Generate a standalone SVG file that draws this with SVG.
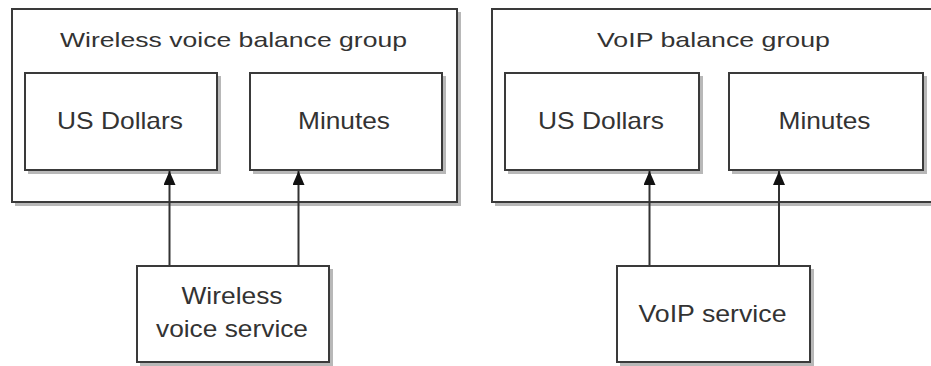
<svg xmlns="http://www.w3.org/2000/svg" width="931" height="366" viewBox="0 0 931 366">
<style>
.shadow{fill:#b8b8b8;stroke:none}
.box{fill:#fff;stroke:#3a3a3a;stroke-width:2}
.t{font-family:"Liberation Sans",Arial,sans-serif;fill:#333;text-anchor:middle}
.ttl{font-size:21px}
.lbl{font-size:24px}
.conn{stroke:#333;stroke-width:2;fill:none}
</style>
<defs>
<marker id="arr" viewBox="0 0 14 12" refX="14" refY="6" markerWidth="14" markerHeight="12" markerUnits="userSpaceOnUse" orient="auto">
<path d="M0,0 L14,6 L0,12 Z" fill="#111"/>
</marker>
</defs>
<rect width="931" height="366" fill="#fff"/>
<g id="group-wireless">
<rect class="shadow" x="15" y="12" width="446" height="194"/>
<rect class="box" x="12" y="9" width="445" height="193"/>
<text class="t ttl" x="233.5" y="47" textLength="347" lengthAdjust="spacingAndGlyphs">Wireless voice balance group</text>
</g>
<g id="wireless-usd">
<rect class="shadow" x="28" y="76" width="193" height="98"/>
<rect class="box" x="25" y="73" width="192" height="97"/>
<text class="t lbl" x="120" y="129" textLength="126" lengthAdjust="spacingAndGlyphs">US Dollars</text>
</g>
<g id="wireless-minutes">
<rect class="shadow" x="253" y="76" width="193" height="98"/>
<rect class="box" x="250" y="73" width="192" height="97"/>
<text class="t lbl" x="344" y="129" textLength="92" lengthAdjust="spacingAndGlyphs">Minutes</text>
</g>
<g id="group-voip">
<rect class="shadow" x="495" y="12" width="446" height="194"/>
<rect class="box" x="492" y="9" width="445" height="193"/>
<text class="t ttl" x="713.5" y="47" textLength="233" lengthAdjust="spacingAndGlyphs">VoIP balance group</text>
</g>
<g id="voip-usd">
<rect class="shadow" x="508" y="76" width="195" height="98"/>
<rect class="box" x="505" y="73" width="194" height="97"/>
<text class="t lbl" x="601" y="129" textLength="126" lengthAdjust="spacingAndGlyphs">US Dollars</text>
</g>
<g id="voip-minutes">
<rect class="shadow" x="732" y="76" width="195" height="98"/>
<rect class="box" x="729" y="73" width="194" height="97"/>
<text class="t lbl" x="824.5" y="129" textLength="92" lengthAdjust="spacingAndGlyphs">Minutes</text>
</g>
<g id="connectors">
<line class="conn" x1="169.5" y1="266" x2="169.5" y2="171" marker-end="url(#arr)"/>
<line class="conn" x1="298.5" y1="266" x2="298.5" y2="171" marker-end="url(#arr)"/>
<line class="conn" x1="649.5" y1="266" x2="649.5" y2="171" marker-end="url(#arr)"/>
<line class="conn" x1="779" y1="266" x2="779" y2="171" marker-end="url(#arr)"/>
</g>
<g id="wireless-service">
<rect class="shadow" x="140" y="269" width="193" height="97"/>
<rect class="box" x="137" y="266" width="192" height="96"/>
<text class="t lbl" x="232" y="304" textLength="101" lengthAdjust="spacingAndGlyphs">Wireless</text>
<text class="t lbl" x="232" y="336.5" textLength="152" lengthAdjust="spacingAndGlyphs">voice service</text>
</g>
<g id="voip-service">
<rect class="shadow" x="620" y="269" width="194" height="97"/>
<rect class="box" x="617" y="266" width="193" height="96"/>
<text class="t lbl" x="712.5" y="321.5" textLength="148" lengthAdjust="spacingAndGlyphs">VoIP service</text>
</g>
</svg>
